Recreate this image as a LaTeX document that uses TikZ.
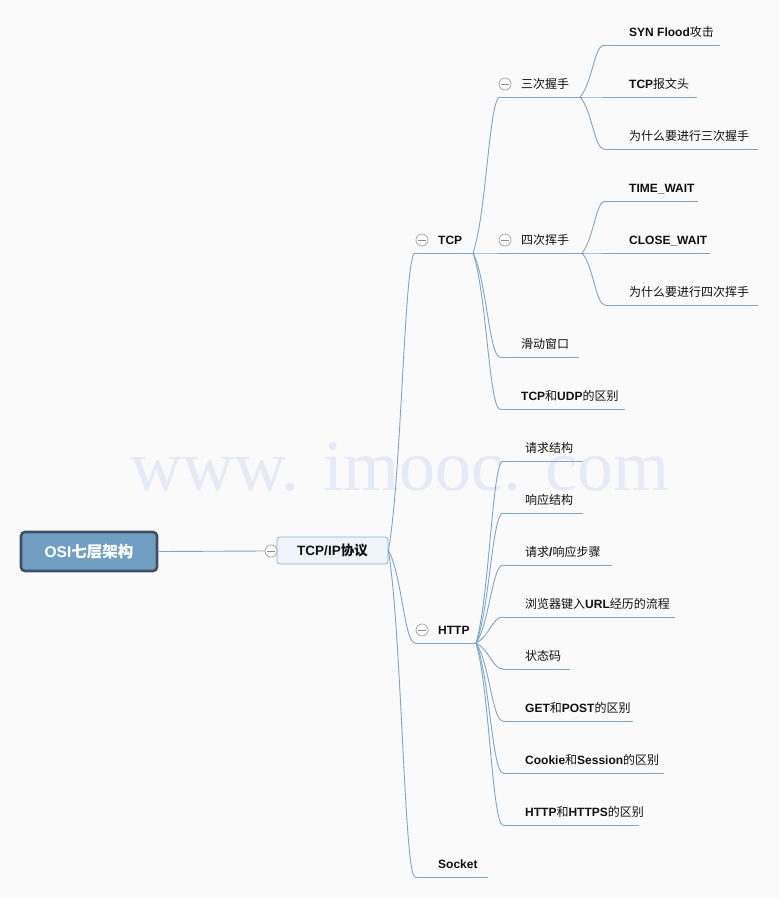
\documentclass[tikz,border=0pt]{standalone}
\usepackage{fontspec}
\setmainfont{Liberation Sans}
\newfontfamily\cjkfont{Noto Sans CJK SC}
\newfontfamily\wmfont{Liberation Serif}
\newcommand\zh[1]{{\cjkfont\mdseries #1}}
\newcommand\zhb[1]{{\cjkfont\bfseries #1}}
\usetikzlibrary{calc}
\definecolor{bgc}{HTML}{FAFAFA}
\definecolor{linec}{HTML}{7FA6C8}
\definecolor{rootfill}{HTML}{719FC2}
\definecolor{rootdraw}{HTML}{3C5366}
\definecolor{subfill}{HTML}{EEF4F9}
\definecolor{subdraw}{HTML}{8DB2D0}
\definecolor{wmc}{HTML}{E5EAF7}
\definecolor{txt}{HTML}{111111}
\tikzset{
  conn/.style={draw=linec, line width=0.9pt},
  mm/.style={to path={let \p1=(\tikztostart), \p2=(\tikztotarget) in
      .. controls (\x1+0.5*\x2-0.5*\x1, \y1+0.25*\y2-0.25*\y1)
      and (\x2-0.4*\x2+0.4*\x1, \y2) .. (\tikztotarget)}},
  topic/.style={anchor=base west, inner sep=0pt, text=txt,
      font=\bfseries\fontsize{12}{14}\selectfont},
  rootbox/.style={draw=rootdraw, fill=rootfill, line width=2.6pt,
      rounded corners=4pt, minimum width=136pt, minimum height=39pt,
      inner sep=0pt, text=white, font=\bfseries\fontsize{15.5}{18}\selectfont},
  subbox/.style={draw=subdraw, fill=subfill, line width=0.8pt,
      rounded corners=3pt, minimum width=111pt, minimum height=27pt,
      inner sep=0pt, text=txt, font=\bfseries\fontsize{13.5}{16}\selectfont},
  collapse/.style={circle, draw=gray!75, fill=white, line width=0.7pt,
      minimum size=12pt, inner sep=0pt,
      path picture={\draw[gray!90, line width=0.7pt]
        ([xshift=-3.6pt]path picture bounding box.center) --
        ([xshift=3.6pt]path picture bounding box.center);}}
}
% name, ul start x, text x, ul y, ul end x, text
\newcommand\mmtopic[6]{%
  \coordinate (#1-s) at (#2,#4);
  \coordinate (#1-e) at (#5,#4);
  \node[topic] (#1) at (#3,#4-8.7) {#6};
  \draw[conn] (#1-s) -- (#1-e);}
\begin{document}
\begin{tikzpicture}[x=1pt,y=-1pt]
\useasboundingbox (0,0) rectangle (779,898);
\fill[bgc] (0,0) rectangle (779,898);
% watermark
\node[anchor=base, inner sep=0pt, text=wmc, font=\wmfont\fontsize{72}{78}\selectfont]
  (wm) at (400,490) {www. imooc. com};

% root and main topic
\node[rootbox] (root) at (89,551.5) {OSI\zhb{七层架构}};
\node[subbox] (tcpip) at (332.5,550.5) {TCP/IP\zhb{协议}};
\node[collapse] (c-tcpip) at (271,551) {};
\draw[conn] (root.east) -- (c-tcpip.west);

% level 1
\mmtopic{tcp}{415}{438}{253}{473}{TCP}
\mmtopic{http}{415}{438}{643}{476}{HTTP}
\mmtopic{socket}{415}{438}{877}{488}{Socket}

% TCP children
\mmtopic{sanci}{500}{521}{97}{580}{\zh{三次握手}}
\mmtopic{sici}{500}{521}{253}{582}{\zh{四次挥手}}
\mmtopic{hua}{500}{521}{357}{579}{\zh{滑动窗口}}
\mmtopic{tcpudp}{500}{521}{409}{625}{TCP\zh{和}UDP\zh{的区别}}

% 三次握手 children
\mmtopic{syn}{604}{629}{45}{720}{SYN Flood\zh{攻击}}
\mmtopic{tcphead}{604}{629}{97}{697}{TCP\zh{报文头}}
\mmtopic{why3}{604}{629}{149}{758}{\zh{为什么要进行三次握手}}

% 四次挥手 children
\mmtopic{tw}{605}{629}{201}{698}{TIME\_WAIT}
\mmtopic{cw}{605}{629}{253}{710}{CLOSE\_WAIT}
\mmtopic{why4}{605}{629}{305}{758}{\zh{为什么要进行四次挥手}}

% HTTP children
\mmtopic{req}{503}{525}{461}{583}{\zh{请求结构}}
\mmtopic{resp}{503}{525}{513}{583}{\zh{响应结构}}
\mmtopic{steps}{503}{525}{565}{612}{\zh{请求}/\zh{响应步骤}}
\mmtopic{url}{503}{525}{617}{675}{\zh{浏览器键入}URL\zh{经历的流程}}
\mmtopic{status}{503}{525}{669}{570}{\zh{状态码}}
\mmtopic{getpost}{503}{525}{721}{633}{GET\zh{和}POST\zh{的区别}}
\mmtopic{cookie}{503}{525}{773}{664}{Cookie\zh{和}Session\zh{的区别}}
\mmtopic{https}{503}{525}{825}{639}{HTTP\zh{和}HTTPS\zh{的区别}}

% connectors
\foreach \c in {tcp,http,socket}
  \draw[conn] (tcpip.east) to[mm] (\c-s);
\foreach \c in {sanci,sici,hua,tcpudp}
  \draw[conn] (tcp-e) to[mm] (\c-s);
\foreach \c in {syn,tcphead,why3}
  \draw[conn] (sanci-e) to[mm] (\c-s);
\foreach \c in {tw,cw,why4}
  \draw[conn] (sici-e) to[mm] (\c-s);
\foreach \c in {req,resp,steps,url,status,getpost,cookie,https}
  \draw[conn] (http-e) to[mm] (\c-s);

% collapse markers
\node[collapse] (c-tcp) at (422,240) {};
\node[collapse] (c-http) at (422,630) {};
\node[collapse] (c-sanci) at (505,84) {};
\node[collapse] (c-sici) at (505,240) {};
\end{tikzpicture}
\end{document}
